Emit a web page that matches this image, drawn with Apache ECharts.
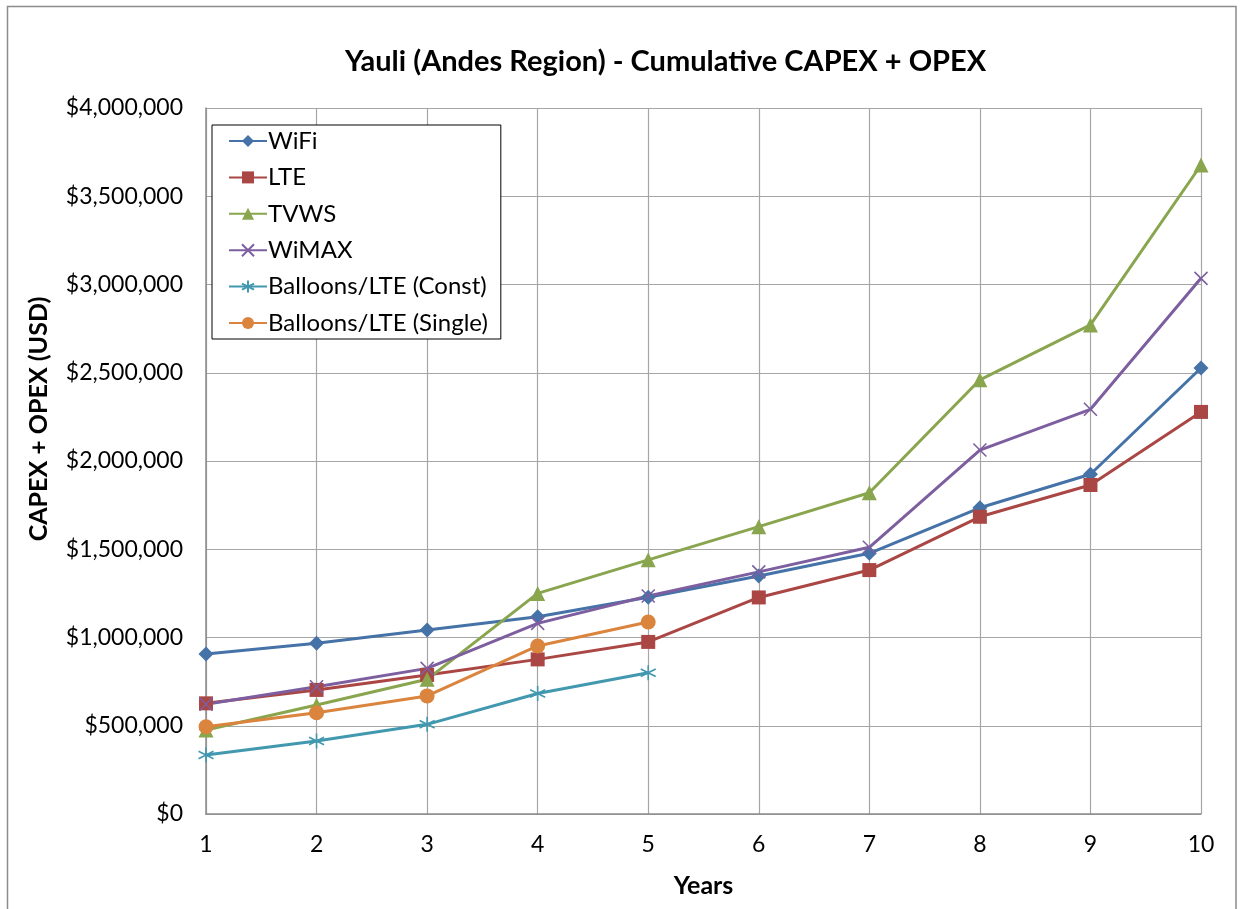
<!DOCTYPE html>
<html>
<head>
<meta charset="utf-8">
<title>Yauli - Cumulative CAPEX + OPEX</title>
<script src="https://cdn.jsdelivr.net/npm/echarts@6/dist/echarts.min.js"></script>
<style>
  html, body { margin: 0; padding: 0; background: #fff; }
  #chart { width: 1241px; height: 909px; }
</style>
</head>
<body>
<div id="chart"></div>
<script>
  // 年份（横轴）
  var years = ['1', '2', '3', '4', '5', '6', '7', '8', '9', '10'];

  // 各方案累计成本 (USD)
  var wifi = [906000, 967000, 1042000, 1118000, 1228000, 1348000, 1477000, 1735000, 1925000, 2527000];
  var lte = [627000, 703000, 788000, 876000, 975000, 1227000, 1382000, 1684000, 1864000, 2278000];
  var tvws = [476000, 618000, 763000, 1250000, 1440000, 1628000, 1820000, 2460000, 2771000, 3677000];
  var wimax = [622000, 721000, 825000, 1080000, 1235000, 1372000, 1511000, 2062000, 2293000, 3035000];
  var balloonsConst = [334000, 414000, 508000, 683000, 800000];
  var balloonsSingle = [494000, 574000, 669000, 952000, 1088000];

  var seriesNames = ['WiFi', 'LTE', 'TVWS', 'WiMAX', 'Balloons/LTE (Const)', 'Balloons/LTE (Single)'];

  var font = 'Lato, "Open Sans", sans-serif';

  function money(v) {
    return '$' + String(v).replace(/\B(?=(\d{3})+(?!\d))/g, ',');
  }

  function lineSeries(name, data, color, symbol, size, stroked) {
    var s = {
      name: name,
      type: 'line',
      data: data,
      symbol: symbol,
      symbolSize: size,
      lineStyle: { color: color, width: 3 },
      itemStyle: { color: color },
      z: 3
    };
    // 叉形标记只有线条，需要描边
    if (stroked) {
      s.itemStyle.borderColor = color;
      s.itemStyle.borderWidth = 1.6;
    }
    return s;
  }

  var chart = echarts.init(document.getElementById('chart'));
  chart.setOption({
    animation: false,
    backgroundColor: '#fff',
    textStyle: { fontFamily: font },
    title: {
      text: 'Yauli (Andes Region) - Cumulative CAPEX + OPEX',
      left: 340,
      top: 42,
      textStyle: { fontSize: 29, fontWeight: 'bold', color: '#000', fontFamily: font }
    },
    graphic: [{
      type: 'rect',
      shape: { x: 7.5, y: 6.5, width: 1228.5, height: 910 },
      style: { fill: 'none', stroke: '#8c8c8c', lineWidth: 1.5 },
      silent: true
    }],
    legend: {
      orient: 'vertical',
      left: 212,
      top: 125,
      padding: [4, 13, 4, 16],
      itemGap: 12.4,
      itemWidth: 38,
      itemHeight: 15,
      backgroundColor: '#fff',
      borderColor: '#000',
      borderWidth: 1,
      textStyle: { fontSize: 24, color: '#000', fontFamily: font, padding: [0, 0, 0, -4] },
      data: seriesNames
    },
    grid: { left: 206, right: 40, top: 108, bottom: 95 },
    xAxis: {
      type: 'category',
      boundaryGap: false,
      data: years,
      name: 'Years',
      nameLocation: 'middle',
      nameGap: 59,
      nameTextStyle: { fontSize: 25, fontWeight: 'bold', color: '#000', fontFamily: font },
      axisLine: { lineStyle: { color: '#8c8c8c', width: 1.5 } },
      axisTick: { show: false },
      axisLabel: { fontSize: 23, color: '#000', margin: 19 },
      splitLine: { show: true, lineStyle: { color: '#a6a6a6', width: 1.2 } }
    },
    yAxis: {
      type: 'value',
      min: 0,
      max: 4000000,
      interval: 500000,
      name: 'CAPEX + OPEX (USD)',
      nameLocation: 'middle',
      nameGap: 155,
      nameTextStyle: {
        fontSize: 25, fontWeight: 'bold', color: '#000', fontFamily: font,
        padding: [0, 0, 0, 84]
      },
      axisLine: { show: true, lineStyle: { color: '#8c8c8c', width: 1.5 } },
      axisTick: { show: false },
      axisLabel: { fontSize: 23, color: '#000', margin: 23, formatter: money },
      splitLine: { show: true, lineStyle: { color: '#a6a6a6', width: 1.2 } }
    },
    series: [
      lineSeries(seriesNames[0], wifi, '#4572a7', 'diamond', 15),
      lineSeries(seriesNames[1], lte, '#aa4643', 'rect', 14),
      lineSeries(seriesNames[2], tvws, '#89a54e', 'triangle', 15),
      lineSeries(seriesNames[3], wimax, '#7d5fa0', 'path://M0,0L10,10M10,0L0,10', 13, true),
      lineSeries(seriesNames[4], balloonsConst, '#4198af', 'path://M5,0L5,10M0.7,2.5L9.3,7.5M9.3,2.5L0.7,7.5', 15, true),
      lineSeries(seriesNames[5], balloonsSingle, '#db843d', 'circle', 15)
    ]
  });
</script>
</body>
</html>
